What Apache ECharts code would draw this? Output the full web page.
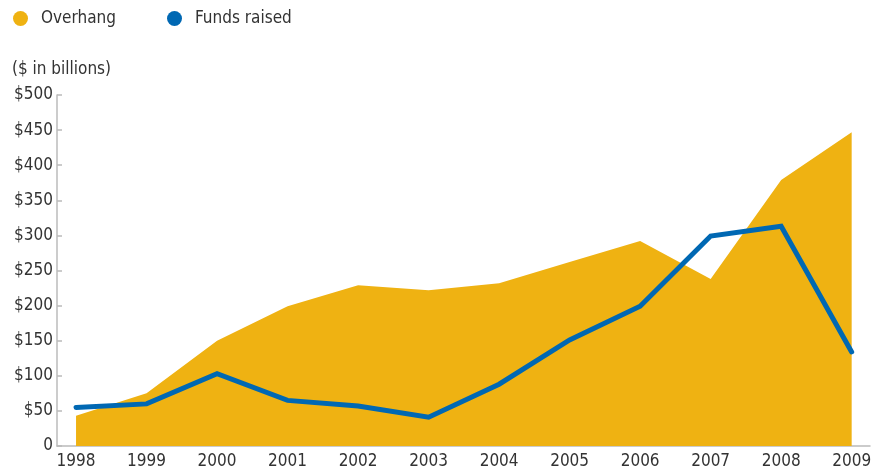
<!DOCTYPE html>
<html>
<head>
<meta charset="utf-8">
<script src="https://cdn.jsdelivr.net/npm/echarts@6/dist/echarts.min.js"></script>
<style>
html,body{margin:0;padding:0;background:#fff;}
#c{width:872px;height:471px;}
</style>
</head>
<body>
<div id="c"></div>
<script>
var years = [1998,1999,2000,2001,2002,2003,2004,2005,2006,2007,2008,2009];
var overhang = [43,75,150,199,229,222,232,262,292,238,379,447];
var fundsRaised = [55,60,103,65,57,41,88,151,199,299,313,134];

var FONT = '"Liberation Sans Narrow","DejaVu Sans Condensed","Liberation Sans",sans-serif';
var TXT = '#333333';
var YELLOW = '#EFB212';
var BLUE = '#0068B3';
var FS = 17;

function pairs(v){ return years.map(function(y,i){ return [y, v[i]]; }); }

var legendBase = {
  top:5, icon:'circle', itemWidth:15, itemHeight:15,
  textStyle:{fontFamily:FONT, fontSize:FS, color:TXT, padding:[0,0,0,8]}
};

var chart = echarts.init(document.getElementById('c'), null, {renderer:'canvas'});
chart.setOption({
  animation:false,
  textStyle:{fontFamily:FONT},
  legend:[
    Object.assign({}, legendBase, {left:8, data:['Overhang']}),
    Object.assign({}, legendBase, {left:162, data:['Funds raised']})
  ],
  graphic:[{
    type:'text', left:12, top:61,
    style:{text:'($ in billions)', font:FS+'px '+FONT, fill:TXT}
  }],
  grid:{left:57, right:2, top:95, bottom:25, containLabel:false, outerBoundsMode:'none'},
  xAxis:{
    type:'value', min:1997.73, max:2009.26,
    axisLine:{show:true, lineStyle:{color:'#bbbbbb', width:1.5}},
    axisTick:{show:false},
    splitLine:{show:false},
    axisLabel:{
      customValues: years, hideOverlap:false,
      fontFamily:FONT, fontSize:FS, color:TXT, margin:7,
      formatter:function(v){ return String(v); }
    }
  },
  yAxis:{
    type:'value', min:0, max:500, interval:50,
    axisLine:{show:true, lineStyle:{color:'#bbbbbb', width:1.5}},
    axisTick:{show:true, inside:true, length:5, lineStyle:{color:'#bbbbbb', width:1.5}},
    splitLine:{show:false},
    axisLabel:{
      fontFamily:FONT, fontSize:FS, color:TXT, margin:4,
      formatter:function(v){ return v===0 ? '0' : '$'+v; }
    }
  },
  series:[
    {
      name:'Overhang', type:'line', data:pairs(overhang),
      symbol:'none', lineStyle:{width:0}, itemStyle:{color:YELLOW},
      areaStyle:{color:YELLOW, opacity:1}, z:1
    },
    {
      name:'Funds raised', type:'line', data:pairs(fundsRaised),
      symbol:'none', lineStyle:{width:5, color:BLUE, cap:'round', join:'miter'},
      itemStyle:{color:BLUE}, z:2
    }
  ]
});
</script>
</body>
</html>
